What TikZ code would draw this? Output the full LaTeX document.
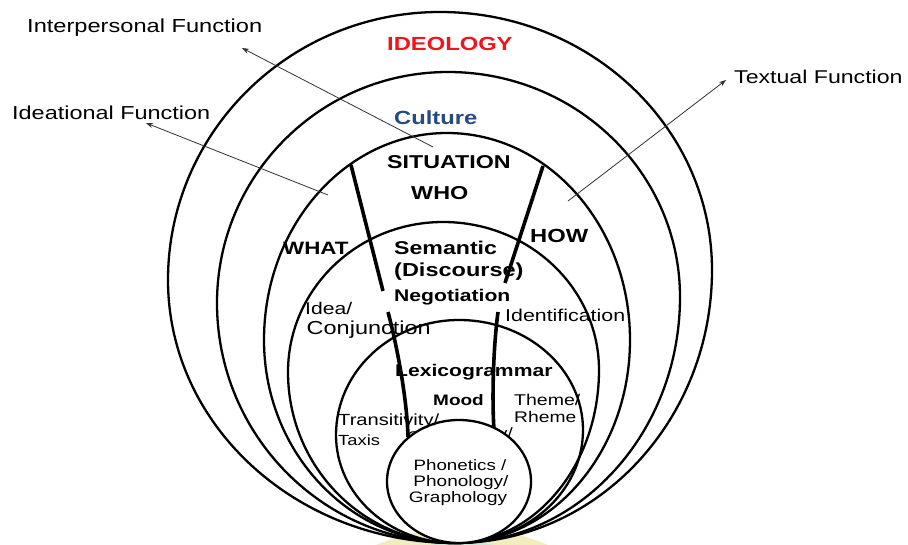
\documentclass[tikz,border=0pt]{standalone}
\usepackage{fontspec}
\setmainfont[FakeStretch=1.25]{Liberation Sans}
\usetikzlibrary{arrows.meta}
\definecolor{ideored}{RGB}{240,20,30}
\definecolor{cultblue}{RGB}{36,75,130}
\definecolor{arrowgray}{RGB}{50,50,50}
\definecolor{paleyellow}{RGB}{242,236,190}
\definecolor{paleteal}{RGB}{205,232,212}
\newcommand\fsz[1]{\fontsize{#1}{#1}\selectfont}
\begin{document}
\begin{tikzpicture}[x=1pt,y=-1pt,
  ring/.style={line width=2.3pt},
  divider/.style={line width=3.6pt},
  pointer/.style={draw=arrowgray,line width=0.8pt,-{Stealth[length=7pt,width=5pt]}},
  lbl/.style={inner sep=0pt,anchor=base west},
  clbl/.style={inner sep=0pt,anchor=base}]
\useasboundingbox (0,0) rectangle (908,545);
\fill[white] (0,0) rectangle (908,545);
% faint background blob at the bottom
\begin{scope}
  \clip (0,0) rectangle (908,545);
  \fill[paleyellow] (462,652) ellipse [x radius=170,y radius=124];
  \fill[paleteal] (462,652) ellipse [x radius=138,y radius=110];
\end{scope}
% nested rings
\foreach \xl/\yl/\xt/\yt/\xr/\yr in {168/280/440/12/712/270, 217/303/448/72/680/297, 264/340/447/133/630/340, 288/372/443/222/599/370, 336/435/459/320/583/430}
  \draw[ring] (455,543) .. controls ({455-0.5523*(455-\xl)},543) and (\xl,{\yl+0.5523*(543-\yl)}) .. (\xl,\yl)
    .. controls (\xl,{\yl-0.5523*(\yl-\yt)}) and ({\xt-0.5523*(\xt-\xl)},\yt) .. (\xt,\yt)
    .. controls ({\xt+0.5523*(\xr-\xt)},\yt) and (\xr,{\yr-0.5523*(\yr-\yt)}) .. (\xr,\yr)
    .. controls (\xr,{\yr+0.5523*(543-\yr)}) and ({455+0.5523*(\xr-455)},543) .. (455,543) -- cycle;
% dividing lines
\coordinate (la1) at (351,165); \coordinate (la2) at (383,291);
\coordinate (lb1) at (388,312); \coordinate (lb2) at (408,437);
\coordinate (ra1) at (543,166); \coordinate (ra2) at (505,283);
\coordinate (rb1) at (498,312); \coordinate (rb2) at (494,430);
\draw[divider] (la1) -- (la2);
\draw[divider] (lb1) .. controls (398,350) and (407,400) .. (lb2);
\draw[divider] (ra1) -- (ra2);
\draw[divider] (rb1) .. controls (493,350) and (492,400) .. (rb2);
% text partly hidden behind the inner circle
\node[lbl,font=\fsz{14}] (hidl) at (407,441) {Co};
\node[inner sep=0pt,anchor=base east,font=\fsz{15}] (hidr) at (513,438) {ty/};
% inner circle
\draw[ring,fill=white] (459,481.5) ellipse [x radius=72,y radius=61.5];
% function arrows
\coordinate (ipTail) at (433,147); \coordinate (ipHead) at (242,48);
\coordinate (idTail) at (328,195); \coordinate (idHead) at (146,123);
\coordinate (txTail) at (568,201); \coordinate (txHead) at (726,80);
\draw[pointer] (ipTail) -- (ipHead);
\draw[pointer] (idTail) -- (idHead);
\draw[pointer] (txTail) -- (txHead);
% labels
\node[lbl,font=\fsz{18.9}] (interp) at (27,32.3) {Interpersonal Function};
\node[lbl,font=\fsz{18.75}] (ideational) at (12,119.3) {Ideational Function};
\node[lbl,font=\fsz{18.5}] (textual) at (734,84) {Textual Function};
\node[lbl,font=\bfseries\fsz{19},text=ideored] (ideology) at (387,50.7) {IDEOLOGY};
\node[lbl,font=\bfseries\fsz{19},text=cultblue] (culture) at (394,125) {Culture};
\node[lbl,font=\bfseries\fsz{18.6}] (situation) at (387,168.3) {SITUATION};
\node[lbl,font=\bfseries\fsz{18.7}] (who) at (411,199.3) {WHO};
\node[lbl,font=\bfseries\fsz{17.9}] (what) at (283,255) {WHAT};
\node[lbl,font=\bfseries\fsz{19}] (how) at (530,242.7) {HOW};
\node[lbl,font=\bfseries\fsz{18.5}] (semantic) at (394,255) {Semantic};
\node[lbl,font=\bfseries\fsz{18.8}] (discourse) at (394,276.7) {(Discourse)};
\node[lbl,font=\bfseries\fsz{16.9}] (negotiation) at (394,301.7) {Negotiation};
\node[lbl,font=\fsz{16.9}] (ideaslash) at (305,315) {Idea/};
\node[lbl,font=\fsz{18.8}] (conj) at (306.5,335) {Conjunction};
\node[lbl,font=\fsz{17.1}] (ident) at (505,321.7) {Identification};
\node[lbl,font=\bfseries\fsz{16.9}] (lexico) at (395,376.7) {Lexicogrammar};
\node[lbl,font=\bfseries\fsz{15.2}] (mood) at (433,406) {Mood};
\node[lbl,font=\fsz{15.6}] (theme) at (514,406) {Theme/};
\node[lbl,font=\fsz{15.4}] (rheme) at (514,422.7) {Rheme};
\node[lbl,font=\fsz{16.1}] (transit) at (338,425) {Transitivity/};
\node[lbl,font=\fsz{14.7}] (taxis) at (338,445.7) {Taxis};
\node[clbl,font=\fsz{15}] (phonetics) at (460,470) {Phonetics /};
\node[clbl,font=\fsz{15.2}] (phonology) at (461,486.7) {Phonology/};
\node[clbl,font=\fsz{15.2}] (graphology) at (458,502.7) {Graphology};
\end{tikzpicture}
\end{document}
